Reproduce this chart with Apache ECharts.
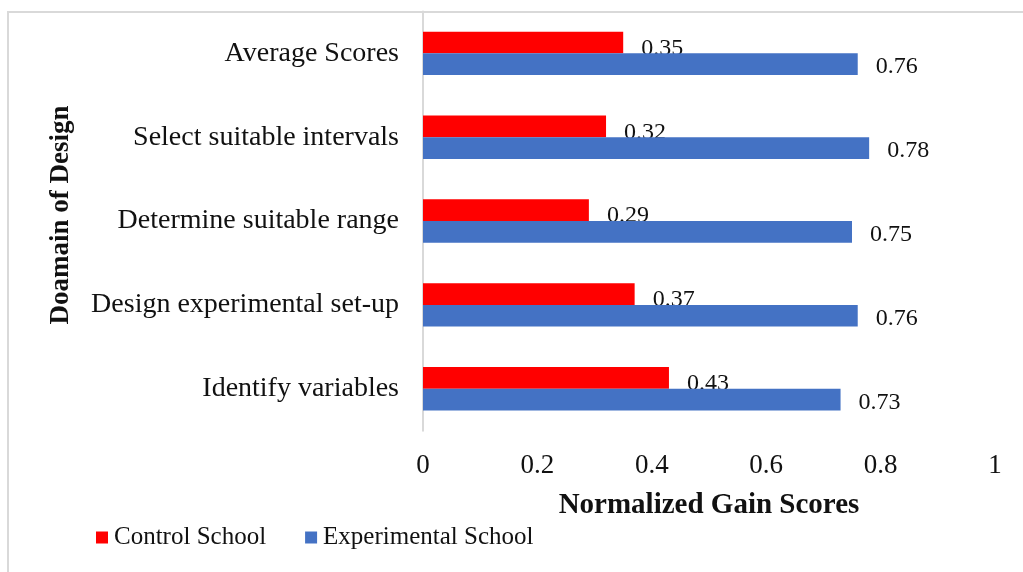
<!DOCTYPE html>
<html>
<head>
<meta charset="utf-8">
<script src="https://cdn.jsdelivr.net/npm/echarts@6/dist/echarts.min.js"></script>
<style>
  html, body { margin: 0; padding: 0; background: #fff; }
  #chart { width: 1023px; height: 572px; }
</style>
</head>
<body>
<div id="chart"></div>
<script>
// Domains of the design task, listed top to bottom
const categories = [
  'Average Scores',
  'Select suitable intervals',
  'Determine suitable range',
  'Design experimental set-up',
  'Identify variables'
];
const controlSchool = [0.35, 0.32, 0.29, 0.37, 0.43];
const experimentalSchool = [0.76, 0.78, 0.75, 0.76, 0.73];
const xTickLabels = ['0', '0.2', '0.4', '0.6', '0.8', '1'];

const serif = "'Times New Roman', 'Liberation Serif', serif";
const ink = '#111';

const chart = echarts.init(document.getElementById('chart'), null, { renderer: 'canvas' });

// Value labels sit to the right of each bar; the control labels hang low
// enough that the experimental bar below covers their lower edge.
function valueLabel(dy) {
  return {
    show: true,
    position: 'right',
    distance: 18,
    offset: [0, dy],
    color: ink,
    fontFamily: serif,
    fontSize: 24,
    formatter: p => p.value.toFixed(2)
  };
}

chart.setOption({
  animation: false,
  backgroundColor: '#fff',
  graphic: [{
    type: 'rect',
    shape: { x: 8, y: 12, width: 1100, height: 700 },
    style: { fill: 'none', stroke: '#d9d9d9', lineWidth: 2 },
    silent: true,
    z: -1
  }],
  grid: { left: 423, right: 28, top: 11.4, bottom: 141.3 },
  legend: {
    data: ['Control School', 'Experimental School'],
    left: 96,
    top: 525,
    padding: 0,
    icon: 'rect',
    itemWidth: 12,
    itemHeight: 12,
    itemGap: 39,
    textStyle: { fontFamily: serif, fontSize: 25, color: ink, padding: [0, 0, 0, 1] }
  },
  xAxis: {
    type: 'value',
    min: 0,
    max: 1,
    interval: 0.2,
    name: 'Normalized Gain Scores',
    nameLocation: 'middle',
    nameGap: 60,
    nameTextStyle: { fontFamily: serif, fontSize: 29, fontWeight: 'bold', color: ink },
    axisLine: { show: false },
    axisTick: { show: false },
    splitLine: { show: false },
    axisLabel: {
      margin: 22,
      fontFamily: serif,
      fontSize: 27,
      color: ink,
      formatter: v => xTickLabels[Math.round(v / 0.2)]
    }
  },
  yAxis: {
    type: 'category',
    inverse: true,
    data: categories,
    name: 'Doamain of Design',
    nameLocation: 'middle',
    nameGap: 348,
    nameRotate: 90,
    nameTextStyle: { fontFamily: serif, fontSize: 27, fontWeight: 'bold', color: ink, padding: [0, 0, 0, 12] },
    axisLine: { show: true, lineStyle: { color: '#d9d9d9', width: 2 } },
    axisTick: { show: false },
    axisLabel: { margin: 24, fontFamily: serif, fontSize: 28, color: ink }
  },
  series: [
    {
      name: 'Control School',
      type: 'bar',
      data: controlSchool,
      barWidth: 21.7,
      barGap: '0%',
      z: 2,
      itemStyle: { color: '#ff0000' },
      label: valueLabel(6)
    },
    {
      name: 'Experimental School',
      type: 'bar',
      data: experimentalSchool,
      barWidth: 21.7,
      barGap: '0%',
      z: 3,
      itemStyle: { color: '#4472c4' },
      label: valueLabel(3)
    }
  ]
});
</script>
</body>
</html>
